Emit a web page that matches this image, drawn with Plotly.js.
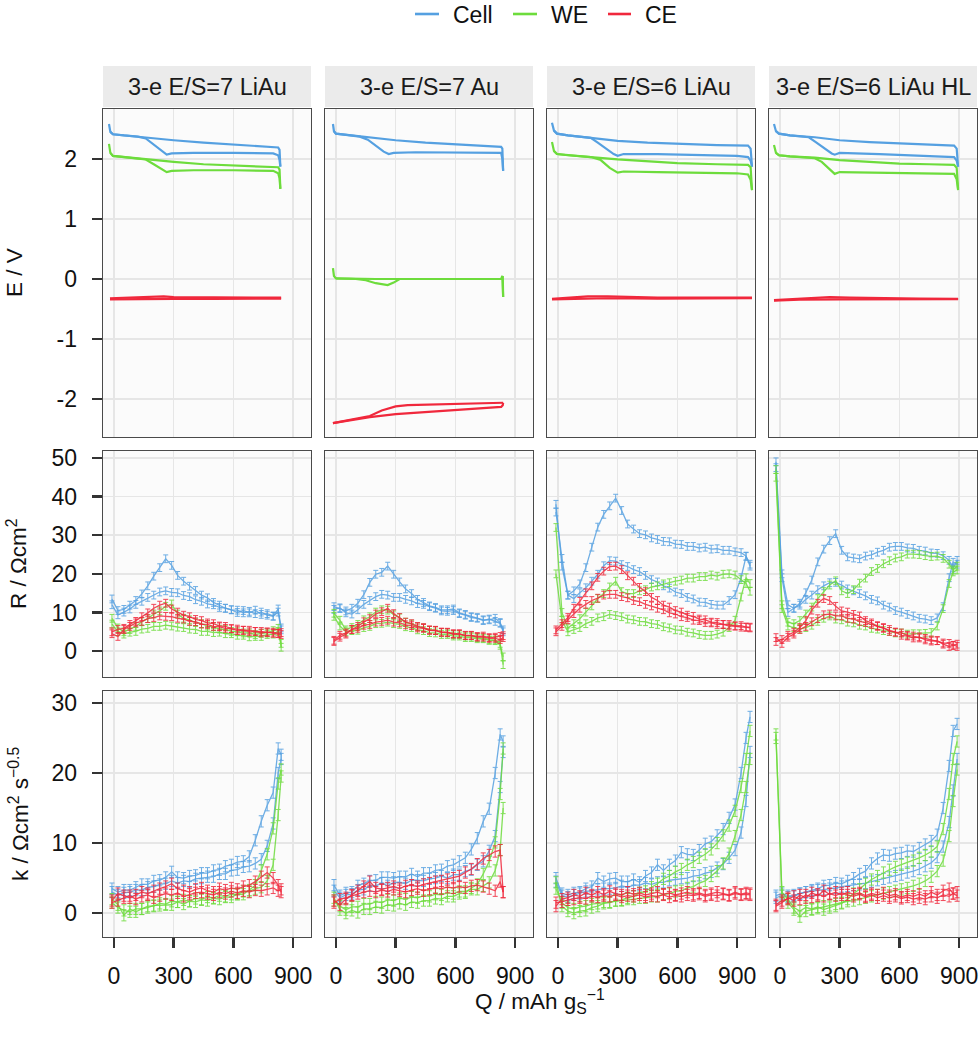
<!DOCTYPE html>
<html><head><meta charset="utf-8">
<script src="https://cdn.plot.ly/plotly-3.0.1.min.js"></script>
<style>html,body{margin:0;padding:0;background:#fff;}#chart{width:980px;height:1040px;}</style>
</head><body><div id="chart"></div>
<script>
// ---------------- DATA ----------------
const PANELS = ['3-e E/S=7 LiAu', '3-e E/S=7 Au', '3-e E/S=6 LiAu', '3-e E/S=6 LiAu HL'];
const SERIES = ['Cell', 'WE', 'CE'];
const X_TICKS = [0, 300, 600, 900];
const E_TICKS = [-2, -1, 0, 1, 2];
const E_TICKTEXT = ['-2', '-1', '0', '1', '2'];
const R_TICKS = [0, 10, 20, 30, 40, 50];
const K_TICKS = [0, 10, 20, 30];
const R_ERR = 1.0;
const K_ERR = 0.8;

// ---- Row 1: potential E / V (two branches per series) ----
const E_P1_CELL_UP_Q = [-25,-18,-5,50,150,300,450,600,750,825,832,836];
const E_P1_CELL_UP_V = [2.58,2.45,2.41,2.39,2.36,2.31,2.27,2.24,2.21,2.19,2.15,1.87];
const E_P1_CELL_DN_Q = [-18,-5,50,120,160,200,240,265,290,400,600,800,825,832,836];
const E_P1_CELL_DN_V = [2.45,2.41,2.39,2.37,2.34,2.24,2.13,2.07,2.09,2.10,2.10,2.09,2.06,1.98,1.87];
const E_P1_WE_UP_Q = [-25,-18,-5,50,150,300,450,600,750,825,832,836];
const E_P1_WE_UP_V = [2.25,2.10,2.05,2.03,2.00,1.95,1.91,1.89,1.87,1.86,1.82,1.50];
const E_P1_WE_DN_Q = [-18,-5,50,120,160,200,240,265,290,400,600,800,825,832,836];
const E_P1_WE_DN_V = [2.10,2.05,2.03,2.01,1.99,1.91,1.83,1.78,1.80,1.81,1.81,1.80,1.76,1.68,1.50];
const E_P1_CE_UP_Q = [-20,100,200,250,300,500,700,840];
const E_P1_CE_UP_V = [-0.32,-0.31,-0.295,-0.29,-0.30,-0.31,-0.31,-0.31];
const E_P1_CE_DN_Q = [-20,100,200,300,500,700,840];
const E_P1_CE_DN_V = [-0.34,-0.335,-0.33,-0.33,-0.33,-0.325,-0.325];

const E_P2_CELL_UP_Q = [-15,-10,0,50,150,300,450,600,750,830,836,840];
const E_P2_CELL_UP_V = [2.58,2.46,2.42,2.40,2.37,2.31,2.27,2.24,2.21,2.20,2.17,1.80];
const E_P2_CELL_DN_Q = [-10,0,50,120,160,200,240,265,290,400,600,800,830,836,840];
const E_P2_CELL_DN_V = [2.46,2.42,2.40,2.37,2.32,2.22,2.12,2.08,2.10,2.11,2.11,2.11,2.10,2.00,1.80];
const E_P2_WE_UP_Q = [-15,-10,0,100,150,200,300,500,700,830,836,838,840];
const E_P2_WE_UP_V = [0.18,0.05,0.01,0.0,0.0,0.0,0.0,0.0,0.0,0.0,0.0,0.05,-0.30];
const E_P2_WE_DN_Q = [0,100,150,200,260,290,320,500,700,830,836,840];
const E_P2_WE_DN_V = [0.01,0.0,-0.02,-0.07,-0.10,-0.06,0.0,0.0,0.0,0.0,0.05,-0.30];
const E_P2_CE_UP_Q = [-15,100,170,230,300,360,500,700,830,840];
const E_P2_CE_UP_V = [-2.40,-2.33,-2.28,-2.19,-2.12,-2.10,-2.09,-2.08,-2.07,-2.06];
const E_P2_CE_DN_Q = [-15,100,170,300,500,700,830,838,840];
const E_P2_CE_DN_V = [-2.40,-2.34,-2.30,-2.25,-2.20,-2.16,-2.13,-2.10,-2.06];

const E_P3_CELL_UP_Q = [-30,-20,-5,50,165,300,450,600,800,955,968,975];
const E_P3_CELL_UP_V = [2.60,2.47,2.42,2.39,2.35,2.30,2.27,2.25,2.23,2.22,2.17,1.87];
const E_P3_CELL_DN_Q = [-20,-5,50,165,200,240,280,300,330,500,700,900,955,968,975];
const E_P3_CELL_DN_V = [2.47,2.42,2.39,2.35,2.27,2.17,2.08,2.05,2.08,2.08,2.07,2.05,2.03,1.97,1.87];
const E_P3_WE_UP_Q = [-30,-20,-5,50,165,300,450,600,800,955,968,975];
const E_P3_WE_UP_V = [2.28,2.13,2.08,2.06,2.03,1.99,1.96,1.93,1.91,1.90,1.86,1.48];
const E_P3_WE_DN_Q = [-20,-5,50,165,215,260,300,330,500,700,900,955,968,975];
const E_P3_WE_DN_V = [2.13,2.08,2.06,2.03,1.98,1.85,1.77,1.79,1.78,1.77,1.76,1.74,1.65,1.48];
const E_P3_CE_UP_Q = [-30,50,150,250,350,500,700,975];
const E_P3_CE_UP_V = [-0.33,-0.31,-0.29,-0.29,-0.30,-0.31,-0.31,-0.31];
const E_P3_CE_DN_Q = [-30,100,250,500,700,975];
const E_P3_CE_DN_V = [-0.34,-0.33,-0.32,-0.325,-0.325,-0.32];

const E_P4_CELL_UP_Q = [-30,-20,-5,50,175,300,450,600,750,875,888,895];
const E_P4_CELL_UP_V = [2.58,2.46,2.42,2.39,2.36,2.31,2.28,2.26,2.24,2.22,2.17,1.87];
const E_P4_CELL_DN_Q = [-20,-5,50,145,180,220,260,275,300,500,700,875,888,895];
const E_P4_CELL_DN_V = [2.46,2.42,2.39,2.36,2.28,2.18,2.09,2.07,2.10,2.08,2.06,2.03,1.97,1.87];
const E_P4_WE_UP_Q = [-30,-20,-5,50,175,300,450,600,750,875,888,895];
const E_P4_WE_UP_V = [2.23,2.10,2.06,2.04,2.02,1.98,1.95,1.92,1.91,1.90,1.85,1.50];
const E_P4_WE_DN_Q = [-20,-5,50,175,210,250,275,300,500,700,875,888,895];
const E_P4_WE_DN_V = [2.10,2.06,2.04,2.01,1.95,1.82,1.75,1.78,1.77,1.76,1.75,1.66,1.48];
const E_P4_CE_UP_Q = [-30,100,250,350,500,700,895];
const E_P4_CE_UP_V = [-0.35,-0.33,-0.30,-0.31,-0.32,-0.325,-0.33];
const E_P4_CE_DN_Q = [-30,100,300,500,700,895];
const E_P4_CE_DN_V = [-0.36,-0.345,-0.34,-0.335,-0.335,-0.335];

// ---- Q grids for rows 2 and 3 ----
const Q_P1 = [-10,20,50,80,110,140,170,200,230,260,290,320,350,380,410,440,470,500,530,560,590,620,650,680,710,740,770,800,825,840];
const Q_P2 = [-10,20,50,80,110,140,170,200,230,260,290,320,350,380,410,440,470,500,530,560,590,620,650,680,710,740,770,800,825,840];
const Q_P3 = [-10,20,50,80,110,140,170,200,230,260,290,320,350,380,410,440,470,500,530,560,590,620,650,680,710,740,770,800,830,860,890,920,945,965];
const Q_P4 = [-20,10,40,70,100,130,160,190,220,250,280,310,340,370,400,430,460,490,520,550,580,610,640,670,700,730,760,790,820,850,870,890];

// ---- Row 2: R / Ohm cm2 ----
const R_P1_CELL_A = [13.5,10.5,10.8,11.9,13.1,14.8,16.9,19.4,21.6,23.9,22.2,19.6,18.1,16.8,15.7,14.5,13.8,12.6,11.9,11.1,10.7,10.0,10.5,9.9,10.6,9.5,9.7,9.1,10.9,6.0];
const R_P1_CELL_B = [12.0,9.4,10.1,10.9,12.1,12.9,13.9,14.5,15.3,15.6,15.2,15.1,14.4,14.1,13.3,12.9,12.2,12.0,11.3,11.1,10.7,10.6,9.9,10.3,9.7,10.1,9.3,9.0,10.1,5.5];
const R_P1_WE_A = [8.5,6.0,5.0,5.6,6.4,7.6,8.4,9.6,10.4,11.6,12.2,9.6,8.5,8.1,7.4,7.1,6.5,6.3,5.7,5.6,5.1,5.0,4.7,4.7,4.3,4.6,4.7,5.3,5.9,1.0];
const R_P1_WE_B = [7.0,5.0,4.4,4.9,5.1,5.7,5.9,6.4,6.4,6.7,6.5,6.2,6.1,5.7,5.6,5.1,5.1,4.8,4.9,4.5,4.5,4.1,4.1,3.7,3.8,3.8,4.3,4.4,5.1,2.0];
const R_P1_CE_A = [5.0,5.6,5.9,6.9,7.7,8.9,9.9,11.1,11.9,12.4,10.9,10.1,9.3,8.9,8.2,7.9,7.3,7.1,6.5,6.4,5.8,5.7,5.4,5.4,5.1,5.1,4.8,4.9,4.6,4.8];
const R_P1_CE_B = [4.5,3.8,5.6,6.4,7.3,7.7,8.4,8.7,9.1,9.0,8.9,8.5,8.3,7.7,7.6,7.0,6.9,6.4,6.3,5.9,5.8,5.3,5.4,5.0,5.1,4.7,5.0,4.6,4.5,4.3];

const R_P2_CELL_A = [11.5,11.0,10.4,11.1,12.4,14.6,17.8,19.9,20.4,22.0,19.9,17.9,16.1,14.9,13.4,12.6,11.7,11.3,10.7,10.7,10.9,9.9,9.5,8.9,8.7,8.1,8.1,8.5,7.4,5.0];
const R_P2_CELL_B = [10.8,11.2,9.9,9.6,10.7,12.1,13.1,14.1,14.7,14.5,13.9,13.9,13.4,13.0,12.3,12.1,11.5,11.1,10.4,10.3,10.5,9.7,9.3,8.7,8.5,7.9,8.3,7.7,7.2,5.5];
const R_P2_WE_A = [9.8,8.0,5.5,6.1,6.9,8.1,8.9,10.1,10.7,10.6,9.4,8.6,7.5,7.0,6.3,6.0,5.4,5.3,4.8,4.7,4.3,4.3,3.9,3.9,3.5,3.4,2.9,2.9,2.0,-3.5];
const R_P2_WE_B = [9.0,6.5,5.0,5.3,5.4,6.1,6.4,7.1,7.2,7.5,7.1,6.9,6.3,6.1,5.5,5.3,4.8,4.7,4.3,4.3,3.9,3.9,3.5,3.5,3.2,3.2,2.8,2.7,1.5,-1.5];
const R_P2_CE_A = [2.5,3.6,4.4,5.6,6.4,7.6,8.4,9.6,10.2,11.1,9.7,8.7,7.5,7.1,6.4,6.1,5.5,5.4,4.9,4.9,4.5,4.5,4.1,4.1,3.8,3.9,3.5,3.6,3.8,4.0];
const R_P2_CE_B = [2.8,4.1,4.7,5.6,5.9,6.7,6.9,7.5,7.7,8.0,7.5,7.3,6.8,6.6,6.0,5.9,5.4,5.3,4.9,4.8,4.4,4.4,4.0,4.0,3.6,3.6,3.3,3.3,3.0,3.5];

const R_P3_CELL_A = [38.0,22.0,14.5,15.6,17.4,21.6,26.9,32.1,35.4,37.6,39.6,36.4,32.9,31.6,30.4,30.1,29.3,28.9,28.4,28.3,27.7,27.6,27.1,27.1,26.7,26.9,26.4,26.5,26.1,26.1,25.7,25.5,24.6,22.0];
const R_P3_CELL_B = [36.0,24.0,14.5,13.6,15.1,16.4,18.1,19.9,22.1,23.4,23.3,22.4,21.9,21.1,20.6,19.6,18.5,17.9,16.9,16.3,15.3,14.9,13.9,13.5,12.7,12.6,12.1,11.9,11.9,13.1,14.6,19.0,24.5,22.5];
const R_P3_WE_A = [32.0,10.0,6.0,7.1,8.4,10.1,11.7,13.6,14.9,16.6,18.1,15.4,14.9,14.9,15.6,15.9,16.6,16.9,17.4,17.7,18.1,18.4,18.9,18.9,19.3,19.3,19.7,19.4,19.9,20.0,19.7,18.5,17.5,15.5];
const R_P3_WE_B = [20.0,8.0,5.0,5.6,6.1,7.1,7.7,8.6,8.9,9.5,9.2,8.9,8.3,8.1,7.7,7.6,7.1,6.9,6.3,6.0,5.5,5.4,4.9,4.7,4.3,4.1,4.1,4.4,4.9,6.1,8.0,14.0,19.0,17.5];
const R_P3_CE_A = [5.5,7.1,8.7,11.1,12.9,15.1,16.9,19.1,20.7,21.9,22.0,21.1,19.5,18.1,16.5,15.4,13.9,13.1,11.9,11.4,10.5,10.1,9.3,9.0,8.3,8.1,7.5,7.4,6.9,6.9,6.5,6.6,6.2,6.2];
const R_P3_CE_B = [5.0,6.4,8.1,9.7,11.1,12.1,13.1,13.7,14.5,14.7,14.7,14.1,13.8,13.1,12.8,12.1,11.7,11.1,10.7,9.9,9.6,8.9,8.7,8.0,7.9,7.4,7.3,6.9,6.9,6.5,6.5,6.2,6.2,6.0];

const R_P4_CELL_A = [49.0,20.0,12.0,11.1,12.4,15.1,18.4,23.1,26.4,28.6,30.4,26.1,24.4,24.1,23.9,24.6,24.9,25.6,26.1,26.9,27.1,27.1,26.7,26.6,26.1,25.9,25.4,25.3,24.7,23.5,21.5,23.5];
const R_P4_CELL_B = [47.5,19.0,10.0,11.1,11.9,13.4,14.5,15.9,16.9,17.7,17.8,17.1,16.1,15.6,14.9,14.3,13.4,13.0,11.9,11.4,10.5,10.1,9.5,9.1,8.5,8.3,7.9,8.6,11.5,19.0,23.0,22.5];
const R_P4_WE_A = [47.0,12.0,7.5,7.1,7.9,9.6,11.4,13.6,15.4,17.1,18.2,15.6,14.9,15.9,17.6,18.9,20.6,21.4,22.6,23.4,24.1,24.4,25.1,25.1,25.0,24.7,24.5,24.6,24.0,22.5,21.0,22.0];
const R_P4_WE_B = [45.0,11.0,6.5,6.1,5.7,6.1,6.7,7.7,8.5,9.1,8.3,8.1,7.5,7.3,6.7,6.5,5.9,5.7,5.3,5.1,4.7,4.7,4.4,4.5,4.5,4.6,4.8,6.5,11.0,17.5,20.5,21.0];
const R_P4_CE_A = [2.5,3.0,4.1,4.9,6.1,7.9,10.6,12.4,13.6,13.1,11.6,10.4,10.1,9.5,9.1,7.9,7.3,6.4,6.1,5.1,4.9,4.1,3.9,3.4,3.7,2.9,2.6,2.7,1.8,1.2,1.5,1.8];
const R_P4_CE_B = [3.5,2.0,3.6,4.4,5.6,6.4,7.6,8.4,9.4,9.6,9.1,9.1,8.5,8.3,7.7,7.4,6.9,6.6,5.9,5.6,4.9,4.7,4.1,3.9,3.4,3.3,2.9,2.7,2.1,2.0,1.5,1.2];

// ---- Row 3: k / Ohm cm2 s^-0.5 ----
const K_P1_CELL_A = [3.5,3.0,3.3,3.3,3.7,4.1,4.1,4.6,4.7,5.1,5.9,5.1,5.0,5.3,5.4,5.7,5.7,6.1,6.2,6.7,6.9,7.3,7.4,8.1,10.4,13.1,15.4,17.2,23.5,22.6];
const K_P1_CELL_B = [3.0,2.6,2.9,3.0,3.3,3.3,3.7,3.8,4.1,4.2,4.6,4.3,4.6,4.5,4.9,5.0,5.2,5.2,5.6,5.6,6.1,6.2,6.6,6.7,7.1,7.7,9.6,12.8,20.0,22.0];
const K_P1_WE_A = [2.0,1.2,-0.3,0.6,0.2,0.6,0.8,1.1,1.1,1.2,1.2,1.6,1.3,1.7,1.6,1.9,1.8,2.1,2.0,2.3,2.3,2.7,2.7,3.3,4.0,6.1,8.4,12.1,18.5,20.5];
const K_P1_WE_B = [1.5,0.8,0.4,0.2,0.6,0.6,1.0,1.0,1.4,1.3,1.7,1.6,1.9,1.7,2.1,2.0,2.3,2.2,2.5,2.4,2.7,2.7,3.1,3.1,3.5,3.7,4.6,6.9,14.0,19.5];
const K_P1_CE_A = [1.8,2.8,2.5,2.2,2.6,3.0,2.8,3.2,3.5,3.8,4.2,3.5,3.2,3.0,3.4,3.6,3.2,3.0,3.5,3.3,3.6,3.4,3.8,4.0,4.5,5.2,5.8,5.0,4.0,3.0];
const K_P1_CE_B = [1.5,1.8,2.2,2.5,2.0,2.4,2.6,2.2,2.5,2.8,2.6,2.9,2.4,2.7,2.9,3.0,2.8,2.6,3.0,2.8,3.1,2.9,3.2,3.0,3.3,3.2,3.4,3.6,3.2,3.4];

const K_P2_CELL_A = [4.0,2.5,2.9,3.0,3.9,4.2,4.6,4.7,5.1,5.1,5.0,5.2,5.2,5.6,5.2,5.7,5.7,6.1,6.2,6.7,6.9,7.4,7.9,9.1,10.7,13.1,14.9,20.0,25.5,24.5];
const K_P2_CELL_B = [3.2,2.2,2.6,2.7,3.3,3.4,3.9,3.9,4.3,3.9,4.4,4.4,4.2,4.7,4.7,4.6,4.9,5.0,5.3,5.0,5.5,5.5,6.0,6.2,6.9,7.4,8.9,11.0,18.0,23.0];
const K_P2_WE_A = [2.2,0.5,0.0,0.4,0.1,0.6,0.6,0.9,0.8,1.2,1.1,1.4,1.2,1.6,1.5,1.8,1.8,2.1,2.0,2.4,2.4,2.8,2.9,3.6,4.1,5.6,7.4,10.1,17.0,23.5];
const K_P2_WE_B = [1.8,1.0,0.5,0.9,0.9,1.3,1.3,1.6,1.5,1.9,1.8,2.1,2.0,2.3,2.2,2.5,2.4,2.7,2.6,2.9,2.8,3.1,3.1,3.4,3.4,3.9,4.4,6.1,9.0,15.0];
const K_P2_CE_A = [1.8,1.2,2.0,2.6,3.2,3.8,4.5,3.6,3.4,3.6,3.8,3.5,3.9,4.0,3.8,4.1,4.3,4.5,4.6,4.8,5.0,5.3,5.8,6.3,7.0,7.8,8.3,8.8,9.0,3.0];
const K_P2_CE_B = [1.5,2.0,2.2,2.5,2.8,3.0,3.2,3.0,3.3,3.1,3.4,3.2,3.0,3.3,3.5,3.2,3.4,3.6,3.5,3.7,3.6,3.8,3.6,3.9,4.0,3.8,3.5,3.2,4.5,3.0];

const K_P3_CELL_A = [5.0,2.8,2.6,2.9,3.0,3.5,3.8,5.0,4.5,4.9,5.0,4.5,4.5,4.8,4.4,5.3,5.8,6.9,6.1,6.9,7.5,8.7,8.4,8.3,9.0,9.9,10.2,11.1,12.0,13.6,15.5,20.0,25.0,28.0];
const K_P3_CELL_B = [4.5,2.5,2.3,2.6,2.8,3.1,3.2,3.4,3.5,3.5,3.6,3.9,3.7,4.0,4.0,4.3,4.1,4.4,4.4,4.7,4.8,5.0,5.0,5.3,5.4,5.7,5.9,6.5,7.0,7.9,9.0,11.5,16.0,23.0];
const K_P3_WE_A = [4.4,1.0,0.3,0.0,0.3,0.4,0.8,1.0,1.4,1.5,1.8,1.9,2.2,2.4,2.9,3.1,3.7,4.2,4.9,5.3,5.9,6.3,6.9,7.3,7.9,8.4,9.1,10.0,11.1,12.5,14.6,18.0,22.0,26.0];
const K_P3_WE_B = [3.5,1.5,0.8,0.6,0.9,1.0,1.3,1.4,1.6,1.6,1.8,1.8,2.0,2.0,2.2,2.2,2.4,2.4,2.7,2.8,3.1,3.2,3.6,3.8,4.3,4.6,5.3,6.0,7.1,8.5,11.0,14.0,18.0,22.0];
const K_P3_CE_A = [1.0,2.0,2.2,2.6,2.4,2.9,2.6,3.0,2.7,3.1,2.8,2.6,3.0,2.7,2.9,2.6,2.8,3.0,2.7,2.9,2.6,2.8,3.0,2.7,2.9,2.6,2.8,3.0,2.8,2.6,3.0,2.7,2.9,2.8];
const K_P3_CE_B = [1.5,1.6,1.9,2.0,2.2,2.1,2.4,2.3,2.5,2.4,2.6,2.3,2.5,2.4,2.6,2.3,2.5,2.4,2.6,2.3,2.5,2.4,2.6,2.5,2.7,2.4,2.6,2.5,2.7,2.5,2.8,2.6,2.7,2.6];

const K_P4_CELL_A = [2.5,2.8,2.5,2.4,2.8,3.0,3.3,3.5,3.9,4.0,4.3,4.2,4.6,5.0,5.6,6.0,7.1,7.8,8.3,8.2,8.5,8.6,8.9,8.8,9.3,9.8,10.3,11.2,15.0,21.0,26.0,27.0];
const K_P4_CELL_B = [2.2,2.5,2.3,2.6,2.8,3.0,3.1,3.3,3.4,3.5,3.6,3.8,3.9,4.0,4.1,4.3,4.5,4.7,4.9,5.1,5.3,5.5,5.8,6.0,6.3,6.7,7.2,8.0,9.5,13.0,17.5,22.0];
const K_P4_WE_A = [25.5,3.0,2.0,0.8,0.3,0.8,0.6,0.9,0.5,0.8,1.0,1.4,2.0,2.8,3.4,4.2,4.8,5.3,5.8,6.2,6.6,6.9,7.2,7.5,7.9,8.3,8.8,9.5,12.0,17.0,22.0,24.5];
const K_P4_WE_B = [25.0,2.5,1.5,0.5,-0.5,0.3,0.5,0.7,1.0,1.1,1.3,1.5,1.7,1.8,2.0,2.2,2.4,2.6,2.8,3.0,3.2,3.4,3.6,3.9,4.2,4.6,5.2,6.0,7.5,11.0,16.0,20.5];
const K_P4_CE_A = [1.0,1.5,2.2,1.8,2.6,2.2,2.9,2.5,3.2,2.7,3.0,2.6,3.0,2.7,2.9,2.5,2.8,2.6,2.9,2.5,2.7,2.3,2.6,2.4,2.7,2.4,3.0,2.6,3.2,3.5,2.8,3.0];
const K_P4_CE_B = [1.2,1.8,2.0,2.4,2.0,2.6,2.3,2.7,2.4,2.8,2.5,2.9,2.6,2.4,2.7,2.3,2.6,2.2,2.5,2.2,2.4,2.1,2.3,2.0,2.2,2.0,2.4,2.2,2.6,2.4,2.8,2.5];

// ---------------- ASSEMBLY ----------------
const E_SETS = [
  [[[E_P1_CELL_UP_Q,E_P1_CELL_UP_V],[E_P1_CELL_DN_Q,E_P1_CELL_DN_V]],[[E_P1_WE_UP_Q,E_P1_WE_UP_V],[E_P1_WE_DN_Q,E_P1_WE_DN_V]],[[E_P1_CE_UP_Q,E_P1_CE_UP_V],[E_P1_CE_DN_Q,E_P1_CE_DN_V]]],
  [[[E_P2_CELL_UP_Q,E_P2_CELL_UP_V],[E_P2_CELL_DN_Q,E_P2_CELL_DN_V]],[[E_P2_WE_UP_Q,E_P2_WE_UP_V],[E_P2_WE_DN_Q,E_P2_WE_DN_V]],[[E_P2_CE_UP_Q,E_P2_CE_UP_V],[E_P2_CE_DN_Q,E_P2_CE_DN_V]]],
  [[[E_P3_CELL_UP_Q,E_P3_CELL_UP_V],[E_P3_CELL_DN_Q,E_P3_CELL_DN_V]],[[E_P3_WE_UP_Q,E_P3_WE_UP_V],[E_P3_WE_DN_Q,E_P3_WE_DN_V]],[[E_P3_CE_UP_Q,E_P3_CE_UP_V],[E_P3_CE_DN_Q,E_P3_CE_DN_V]]],
  [[[E_P4_CELL_UP_Q,E_P4_CELL_UP_V],[E_P4_CELL_DN_Q,E_P4_CELL_DN_V]],[[E_P4_WE_UP_Q,E_P4_WE_UP_V],[E_P4_WE_DN_Q,E_P4_WE_DN_V]],[[E_P4_CE_UP_Q,E_P4_CE_UP_V],[E_P4_CE_DN_Q,E_P4_CE_DN_V]]]
];
const Q_SETS = [Q_P1, Q_P2, Q_P3, Q_P4];
const R_SETS = [
  [[R_P1_CELL_A,R_P1_CELL_B],[R_P1_WE_A,R_P1_WE_B],[R_P1_CE_A,R_P1_CE_B]],
  [[R_P2_CELL_A,R_P2_CELL_B],[R_P2_WE_A,R_P2_WE_B],[R_P2_CE_A,R_P2_CE_B]],
  [[R_P3_CELL_A,R_P3_CELL_B],[R_P3_WE_A,R_P3_WE_B],[R_P3_CE_A,R_P3_CE_B]],
  [[R_P4_CELL_A,R_P4_CELL_B],[R_P4_WE_A,R_P4_WE_B],[R_P4_CE_A,R_P4_CE_B]]
];
const K_SETS = [
  [[K_P1_CELL_A,K_P1_CELL_B],[K_P1_WE_A,K_P1_WE_B],[K_P1_CE_A,K_P1_CE_B]],
  [[K_P2_CELL_A,K_P2_CELL_B],[K_P2_WE_A,K_P2_WE_B],[K_P2_CE_A,K_P2_CE_B]],
  [[K_P3_CELL_A,K_P3_CELL_B],[K_P3_WE_A,K_P3_WE_B],[K_P3_CE_A,K_P3_CE_B]],
  [[K_P4_CELL_A,K_P4_CELL_B],[K_P4_WE_A,K_P4_WE_B],[K_P4_CE_A,K_P4_CE_B]]
];

// ---------------- STYLE ----------------
const COLORS = ['#55A0E1', '#6DDC3C', '#F0283C'];
const W = 980, H = 1040;
const FONT = 'Liberation Sans, Arial, Helvetica, sans-serif';
const COL_PX = [[103,311],[325,533],[547,755],[769,977]];
const ROW_PX = [[109,437],[451,677],[691,937]];
const Y_RANGES = [[-2.63,2.83],[-6.7,51.8],[-3.4,31.7]];
const X_RANGE = [-55, 990];
const TICK_SIZE = 23, STRIP_SIZE = 23.5, TITLE_SIZE = 22.5, LEG_SIZE = 23;

const px = v => v / W;
const py = v => 1 - v / H;

const traces = [];
const layout = {
  width: W, height: H,
  margin: {l:0, r:0, t:0, b:0},
  paper_bgcolor: '#ffffff',
  plot_bgcolor: '#FBFBFB',
  showlegend: false,
  font: {family: FONT, color: '#111'},
  shapes: [], annotations: []
};

function axName(n){ return n === 1 ? '' : String(n); }

for (let r = 0; r < 3; r++) {
  for (let c = 0; c < 4; c++) {
    const n = r * 4 + c + 1;
    const xa = 'x' + axName(n), ya = 'y' + axName(n);
    const yticks = r === 0 ? E_TICKS : (r === 1 ? R_TICKS : K_TICKS);
    const ytext = r === 0 ? E_TICKTEXT : yticks.map(String);
    layout['xaxis' + axName(n)] = {
      domain: [px(COL_PX[c][0]), px(COL_PX[c][1])],
      anchor: ya, range: X_RANGE, tickmode: 'array', tickvals: X_TICKS,
      ticktext: X_TICKS.map(String),
      showticklabels: r === 2, ticks: r === 2 ? 'outside' : '',
      ticklen: 10, tickwidth: 2.4, tickcolor: '#333',
      ticklabelstandoff: 8,
      tickfont: {size: TICK_SIZE, color: '#111', family: FONT},
      showgrid: true, gridcolor: '#E6E6E6', gridwidth: 1.6, zeroline: false,
      showline: true, mirror: true, linecolor: '#4a4a4a', linewidth: 1.4,
      fixedrange: true
    };
    layout['yaxis' + axName(n)] = {
      domain: [py(ROW_PX[r][1]), py(ROW_PX[r][0])],
      anchor: xa, range: Y_RANGES[r], tickmode: 'array', tickvals: yticks,
      ticktext: ytext,
      showticklabels: c === 0, ticks: c === 0 ? 'outside' : '',
      ticklen: 10, tickwidth: 2.4, tickcolor: '#333',
      ticklabelstandoff: 10,
      tickfont: {size: TICK_SIZE, color: '#111', family: FONT},
      showgrid: true, gridcolor: '#E6E6E6', gridwidth: 1.6, zeroline: false,
      showline: true, mirror: true, linecolor: '#4a4a4a', linewidth: 1.4,
      fixedrange: true
    };

    for (let s = 0; s < 3; s++) {
      for (let b = 0; b < 2; b++) {
        if (r === 0) {
          const cur = E_SETS[c][s][b];
          traces.push({
            type: 'scatter', mode: 'lines', x: cur[0], y: cur[1],
            xaxis: xa, yaxis: ya, name: SERIES[s],
            line: {color: COLORS[s], width: 2.2},
            hoverinfo: 'skip'
          });
        } else {
          const yv = r === 1 ? R_SETS[c][s][b] : K_SETS[c][s][b];
          const err = r === 1 ? R_ERR : K_ERR;
          traces.push({
            type: 'scatter', mode: 'lines', x: Q_SETS[c], y: yv,
            xaxis: xa, yaxis: ya, name: SERIES[s], opacity: 0.85,
            line: {color: COLORS[s], width: 1.3},
            error_y: {type: 'constant', value: err, color: COLORS[s], thickness: 1, width: 2.5},
            hoverinfo: 'skip'
          });
        }
      }
    }
  }
}

// strips
for (let c = 0; c < 4; c++) {
  layout.shapes.push({type: 'rect', xref: 'paper', yref: 'paper',
    x0: px(COL_PX[c][0]), x1: px(COL_PX[c][1]), y0: py(107), y1: py(66),
    fillcolor: '#EBEBEB', line: {width: 0}, layer: 'below'});
  layout.annotations.push({xref: 'paper', yref: 'paper',
    x: px((COL_PX[c][0] + COL_PX[c][1]) / 2), y: py(86.5),
    xanchor: 'center', yanchor: 'middle', showarrow: false,
    text: PANELS[c], font: {size: STRIP_SIZE, color: '#1a1a1a', family: FONT}});
}

// axis titles
const Y_TITLES = ['E / V', 'R / Ωcm<sup>2</sup>', 'k / Ωcm<sup>2</sup> s<sup>−0.5</sup>'];
const Y_TITLE_X = [15, 17, 19];
for (let r = 0; r < 3; r++) {
  layout.annotations.push({xref: 'paper', yref: 'paper',
    x: px(Y_TITLE_X[r]), y: py((ROW_PX[r][0] + ROW_PX[r][1]) / 2),
    xanchor: 'center', yanchor: 'middle', textangle: -90, showarrow: false,
    text: Y_TITLES[r], font: {size: TITLE_SIZE, color: '#111', family: FONT}});
}
layout.annotations.push({xref: 'paper', yref: 'paper', x: px(540), y: py(1001),
  xanchor: 'center', yanchor: 'middle', showarrow: false,
  text: 'Q / mAh g<sub>S</sub><sup>−1</sup>', font: {size: TITLE_SIZE, color: '#111', family: FONT}});

// legend (manual, top centre)
const LEG_LINE = [[415,439],[513,537],[608,631]];
for (let s = 0; s < 3; s++) {
  layout.shapes.push({type: 'line', xref: 'paper', yref: 'paper',
    x0: px(LEG_LINE[s][0]), x1: px(LEG_LINE[s][1]), y0: py(14), y1: py(14),
    line: {color: COLORS[s], width: 2.6}});
  layout.annotations.push({xref: 'paper', yref: 'paper',
    x: px(LEG_LINE[s][1] + 12), y: py(15), xanchor: 'left', yanchor: 'middle',
    showarrow: false, text: SERIES[s], font: {size: LEG_SIZE, color: '#111', family: FONT}});
}

Plotly.newPlot('chart', traces, layout, {staticPlot: true, displayModeBar: false});
</script></body></html>
